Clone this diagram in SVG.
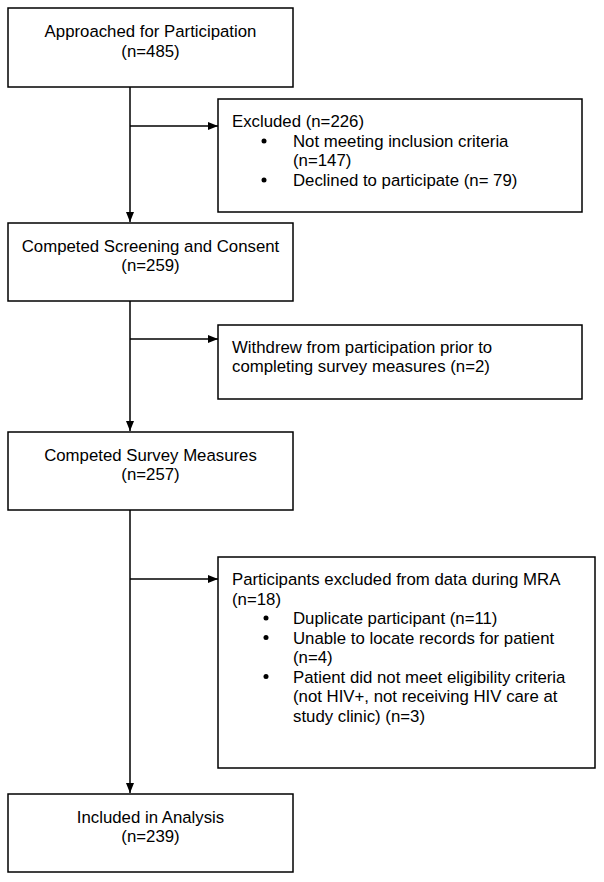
<svg xmlns="http://www.w3.org/2000/svg" width="604" height="882" viewBox="0 0 604 882">
<style>
.box{fill:#fff;stroke:#000;stroke-width:1.5}
.t{font-family:"Liberation Sans",Arial,sans-serif;font-size:16.8px;fill:#000}
.c{text-anchor:middle}
.ln{stroke:#000;stroke-width:1.5;fill:none}
</style>
<defs>
<marker id="ah" markerWidth="10" markerHeight="8" refX="10" refY="4" orient="auto" markerUnits="userSpaceOnUse">
<path d="M0,0 L10,4 L0,8 Z" fill="#000"/>
</marker>
</defs>
<rect width="604" height="882" fill="#fff"/>
<g id="connectors">
<line class="ln" x1="130" y1="87" x2="130" y2="222" marker-end="url(#ah)"/>
<line class="ln" x1="130" y1="126" x2="218" y2="126" marker-end="url(#ah)"/>
<line class="ln" x1="130" y1="301" x2="130" y2="431" marker-end="url(#ah)"/>
<line class="ln" x1="130" y1="339" x2="218" y2="339" marker-end="url(#ah)"/>
<line class="ln" x1="130" y1="510" x2="130" y2="793" marker-end="url(#ah)"/>
<line class="ln" x1="130" y1="579" x2="218" y2="579" marker-end="url(#ah)"/>
</g>
<g id="approached">
<rect class="box" x="8" y="8" width="285" height="79"/>
<text class="t c" x="150.5" y="37">Approached for Participation</text>
<text class="t c" x="150.5" y="57">(n=485)</text>
</g>
<g id="excluded">
<rect class="box" x="218" y="99" width="364" height="113"/>
<text class="t" x="232" y="127">Excluded (n=226)</text>
<circle cx="264" cy="141" r="2.5"/>
<text class="t" x="293" y="147">Not meeting inclusion criteria</text>
<text class="t" x="293" y="166">(n=147)</text>
<circle cx="264" cy="180" r="2.5"/>
<text class="t" x="293" y="186">Declined to participate (n= 79)</text>
</g>
<g id="screening">
<rect class="box" x="8" y="223" width="285" height="78"/>
<text class="t c" x="150.5" y="252">Competed Screening and Consent</text>
<text class="t c" x="150.5" y="271">(n=259)</text>
</g>
<g id="withdrew">
<rect class="box" x="218" y="325" width="364" height="74"/>
<text class="t" x="232" y="353">Withdrew from participation prior to</text>
<text class="t" x="232" y="372">completing survey measures (n=2)</text>
</g>
<g id="survey">
<rect class="box" x="8" y="432" width="285" height="78"/>
<text class="t c" x="150.5" y="461">Competed Survey Measures</text>
<text class="t c" x="150.5" y="480">(n=257)</text>
</g>
<g id="mra">
<rect class="box" x="218" y="557" width="377" height="211"/>
<text class="t" x="232" y="585">Participants excluded from data during MRA</text>
<text class="t" x="232" y="604.5">(n=18)</text>
<circle cx="266" cy="618" r="2.5"/>
<text class="t" x="293" y="624">Duplicate participant (n=11)</text>
<circle cx="266" cy="637.5" r="2.5"/>
<text class="t" x="293" y="643.5">Unable to locate records for patient</text>
<text class="t" x="293" y="663">(n=4)</text>
<circle cx="266" cy="676.5" r="2.5"/>
<text class="t" x="293" y="682.5">Patient did not meet eligibility criteria</text>
<text class="t" x="293" y="702">(not HIV+, not receiving HIV care at</text>
<text class="t" x="293" y="721.5">study clinic) (n=3)</text>
</g>
<g id="included">
<rect class="box" x="8" y="794" width="285" height="78"/>
<text class="t c" x="150.5" y="823">Included in Analysis</text>
<text class="t c" x="150.5" y="842">(n=239)</text>
</g>
</svg>
